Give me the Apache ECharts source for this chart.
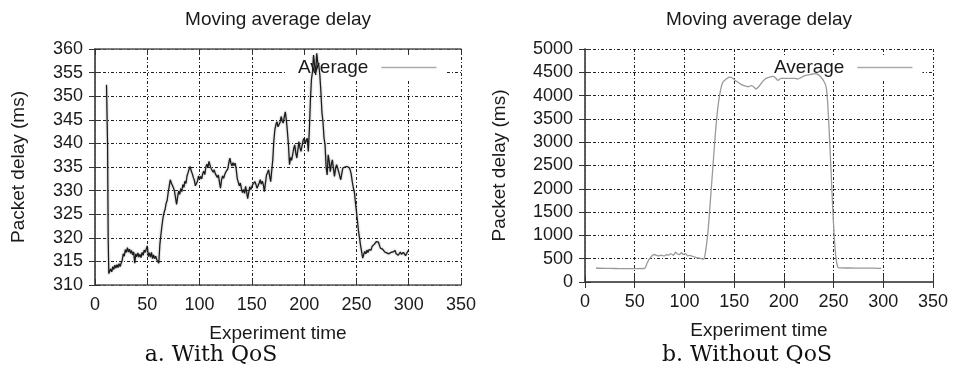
<!DOCTYPE html>
<html>
<head>
<meta charset="utf-8">
<script src="https://cdn.jsdelivr.net/npm/echarts@6/dist/echarts.min.js"></script>
<style>
html,body{margin:0;padding:0;background:#fff;}
#chart{width:954px;height:370px;}
</style>
</head>
<body>
<div id="chart"></div>
<script>
// ---- Data ----
var chartTitle = 'Moving average delay';
var xAxisName = 'Experiment time';
var yAxisName = 'Packet delay (ms)';
var seriesName = 'Average';
var captionA = 'a. With QoS';
var captionB = 'b. Without QoS';

var xMin = 0, xMax = 350, xStep = 50;
var qosMin = 310, qosMax = 360, qosStep = 5;
var noQosMin = 0, noQosMax = 5000, noQosStep = 500;

// [time, delay] for "With QoS"
var qosData = [
[11,352.4],[12,340],[12.6,320],[13.2,312.4],[14,312.9],[15,313.4],[16,312.8],[17,313.9],[18,313.3],[19,314.2],
[20,313.6],[21,314.3],[22,313.7],[23,314.5],[24,313.9],[25,314.6],[26,315.2],[27,316.6],[28,316.1],[29,317.5],
[30,316.9],[31,317.9],[32,317.0],[33,317.6],[34,316.7],[35,317.3],[36,316.4],[37,317.0],[38,314.6],[39,316.6],
[40,316.0],[41,316.8],[42,315.9],[43,316.5],[44,315.8],[45,316.9],[46,316.3],[47,317.4],[48,316.9],[49,317.6],
[50,318.3],[51,316.0],[52,316.8],[53,315.9],[54,316.9],[55,315.6],[56,316.4],[57,315.6],[58,316.1],[59,315.4],
[60,315.8],[61,314.6],[62,318.5],[63,320.6],[64,322.5],[65,324.2],[66,325.3],[67,326.0],[68,327.3],[69,327.9],
[70,329.6],[71,331.0],[72,332.3],[73,331.6],[74,331.9],[75,330.6],[76,329.9],[77,328.5],[78,327.1],[79,328.6],
[80,329.9],[81,329.2],[82,330.4],[83,329.8],[84,331.3],[85,330.7],[86,332.0],[87,331.5],[88,333.1],[89,333.8],
[90,334.6],[91,335.1],[92,334.2],[93,333.6],[94,332.8],[95,332.2],[96,331.0],[97,330.8],[98,332.0],[99,333.1],
[100,332.4],[101,333.0],[102,332.5],[103,333.6],[104,334.1],[105,333.4],[106,335.0],[107,335.6],[108,334.9],[109,336.2],
[110,335.4],[111,334.7],[112,335.1],[113,333.9],[114,334.4],[115,333.6],[116,333.9],[117,332.8],[118,333.3],[119,331.8],
[120,330.5],[121,332.2],[122,333.1],[123,332.6],[124,333.4],[125,333.9],[126,333.5],[127,334.6],[128,335.9],[129,336.9],
[130,335.8],[131,335.2],[132,335.9],[133,335.3],[134,335.8],[135,334.6],[136,332.6],[137,332.2],[138,331.0],[139,331.6],
[140,330.4],[141,329.6],[142,330.2],[143,329.4],[144,330.9],[145,329.7],[146,328.3],[147,329.6],[148,330.8],[149,330.2],
[150,330.6],[151,331.4],[152,331.0],[153,331.9],[154,331.2],[155,330.5],[156,330.9],[157,331.6],[158,332.3],[159,331.4],
[160,332.0],[161,331.2],[162,329.8],[163,331.6],[164,333.3],[165,333.8],[166,334.4],[167,333.1],[168,331.9],[169,334.2],
[170,336.5],[171,340.5],[172,342.9],[173,344.0],[174,344.6],[175,343.5],[176,343.2],[177,344.5],[178,345.7],[179,344.8],
[180,344.3],[181,345.6],[182,346.7],[183,344.9],[184,342.5],[185,339.6],[186,335.5],[187,337.0],[188,336.4],[189,337.6],
[190,338.9],[191,339.7],[192,338.0],[193,336.9],[194,338.6],[195,340.4],[196,339.1],[197,338.3],[198,339.5],[199,340.6],
[200,341.1],[201,340.0],[202,340.6],[203,341.1],[204,338.3],[205,343.0],[206,349.2],[207,353.6],[208,355.2],[209,358.7],
[210,356.5],[211,354.5],[212,359.1],[213,357.2],[214,356.6],[215,354.5],[216,351.0],[217,346.6],[218,344.6],[219,341.2],
[220,339.7],[221,335.0],[222,333.3],[223,337.6],[224,336.2],[225,334.0],[226,335.6],[227,336.5],[228,334.7],[229,333.0],
[230,334.6],[231,335.5],[232,334.8],[233,334.0],[234,333.1],[235,332.3],[236,333.6],[237,334.8],[238,334.4],[239,335.0],
[240,334.6],[241,335.1],[242,334.7],[243,334.9],[244,334.4],[245,333.5],[246,331.9],[247,330.6],[248,329.8],[249,327.6],
[250,325.6],[251,323.5],[252,321.4],[253,319.9],[254,318.3],[255,317.0],[256,315.7],[257,316.5],[258,317.1],[259,316.6],
[260,317.4],[261,316.9],[262,317.5],[263,317.8],[264,317.4],[265,318.2],[266,318.0],[267,318.6],[268,318.9],[269,319.2],
[270,318.9],[271,319.1],[272,318.4],[273,317.8],[274,318.1],[275,317.6],[276,317.5],[277,317.0],[278,317.4],[279,316.8],
[280,317.1],[281,316.6],[282,316.4],[283,316.9],[284,316.7],[285,317.0],[286,316.8],[287,317.3],[288,316.6],[289,316.8],
[290,316.3],[291,316.4],[292,317.0],[293,316.5],[294,316.1],[295,316.9],[296,316.8],[297,316.2],[298,316.4],[299,317.1],
[300,317.4]
];

// [time, delay] for "Without QoS"
var noQosData = [
[11,300],[20,292],[30,290],[40,288],[50,289],[60,290],[62,380],[64,470],[66,530],[68,575],
[70,590],[72,570],[74,560],[76,575],[78,565],[80,560],[82,585],[84,575],[86,605],[88,590],
[89,570],[91,640],[93,600],[95,590],[97,630],[99,590],[101,610],[103,560],[105,570],[107,560],
[110,537],[112,525],[114,515],[116,505],[118,495],[119.5,490],[121,620],[122.5,850],[124,1150],[126,1720],
[128.5,2430],[131,3150],[133.5,3720],[136,4080],[138.5,4280],[142,4355],[145,4398],[148,4384],[150.5,4334],[154,4283],
[157,4241],[160,4212],[164,4190],[167,4212],[169.5,4190],[172,4140],[175.5,4212],[179,4312],[182,4370],[185.5,4398],
[189,4413],[191.5,4384],[194,4327],[197,4370],[201,4370],[206,4370],[211,4370],[214,4355],[217,4384],[221,4427],
[224,4441],[227,4455],[231,4470],[234,4455],[237,4405],[240.5,4298],[242.5,4190],[244,3868],[245.8,3152],[247.5,2364],
[249,1647],[250.8,931],[252.5,501],[254.2,322],[256,301],[265,300],[280,298],[290,296],[298,292]
];

// ---- Styles ----
var FONT = 'Liberation Sans, Arial, sans-serif';
var TXT = '#1a1a1a';
var gridLineStyle = {color: '#222', width: 1, type: [3, 2, 1, 2]};
var frame = {show: true, lineStyle: {color: '#555', width: 1.5}};
var ticksIn = {show: true, inside: true, length: 6, lineStyle: {color: '#333', width: 1}};
function plain(v) { return String(v); }

function bottomX(gi) {
  return {
    type: 'value', gridIndex: gi, position: 'bottom',
    min: xMin, max: xMax, interval: xStep,
    name: xAxisName, nameLocation: 'middle', nameGap: 39,
    nameTextStyle: {fontFamily: FONT, fontSize: 19, color: TXT},
    axisLine: frame, axisTick: ticksIn,
    axisLabel: {fontFamily: FONT, fontSize: 18, color: TXT, margin: 11, formatter: plain},
    splitLine: {show: true, lineStyle: gridLineStyle}
  };
}
function topX(gi) {
  return {
    type: 'value', gridIndex: gi, position: 'top',
    min: xMin, max: xMax, interval: xStep,
    axisLine: frame, axisTick: ticksIn,
    axisLabel: {show: false}, splitLine: {show: false}
  };
}
function leftY(gi, mn, mx, st, gap) {
  return {
    type: 'value', gridIndex: gi, position: 'left',
    min: mn, max: mx, interval: st,
    name: yAxisName, nameLocation: 'middle', nameGap: gap,
    nameTextStyle: {fontFamily: FONT, fontSize: 19, color: TXT},
    axisLine: frame, axisTick: ticksIn,
    axisLabel: {fontFamily: FONT, fontSize: 18, color: TXT, margin: 12, formatter: plain},
    splitLine: {show: true, lineStyle: gridLineStyle}
  };
}
function rightY(gi, mn, mx, st) {
  return {
    type: 'value', gridIndex: gi, position: 'right',
    min: mn, max: mx, interval: st,
    axisLine: frame, axisTick: ticksIn,
    axisLabel: {show: false}, splitLine: {show: false}
  };
}

function legendAt(left) {
  return {
    data: [seriesName], left: left, top: 56, z: 1,
    orient: 'horizontal', align: 'right',
    backgroundColor: '#fff', padding: [2, 10, 2, 11],
    icon: 'rect', itemWidth: 55, itemHeight: 1.5,
    itemStyle: {color: '#aaa', borderWidth: 0},
    textStyle: {fontFamily: FONT, fontSize: 19, color: TXT, padding: [0, 8, 0, 0]},
    selectedMode: false
  };
}

var chart = echarts.init(document.getElementById('chart'), null, {renderer: 'canvas'});
chart.setOption({
  animation: false,
  backgroundColor: '#fff',
  title: [
    {text: chartTitle, left: 278, top: 10, textAlign: 'center', padding: 0,
     textStyle: {fontFamily: FONT, fontSize: 19, fontWeight: 'normal', color: TXT}},
    {text: chartTitle, left: 759, top: 10, textAlign: 'center', padding: 0,
     textStyle: {fontFamily: FONT, fontSize: 19, fontWeight: 'normal', color: TXT}},
    {text: captionA, left: 211, top: 344, textAlign: 'center', padding: 0,
     textStyle: {fontFamily: 'DejaVu Serif, serif', fontSize: 22, fontWeight: 'normal', color: '#111'}},
    {text: captionB, left: 747, top: 344, textAlign: 'center', padding: 0,
     textStyle: {fontFamily: 'DejaVu Serif, serif', fontSize: 22, fontWeight: 'normal', color: '#111'}}
  ],
  legend: [legendAt(287), legendAt(763)],
  grid: [
    {left: 95, top: 49, width: 366, height: 236, containLabel: false},
    {left: 585, top: 49, width: 348, height: 233, containLabel: false}
  ],
  xAxis: [bottomX(0), bottomX(1), topX(0), topX(1)],
  yAxis: [
    leftY(0, qosMin, qosMax, qosStep, 67),
    leftY(1, noQosMin, noQosMax, noQosStep, 76),
    rightY(0, qosMin, qosMax, qosStep),
    rightY(1, noQosMin, noQosMax, noQosStep)
  ],
  series: [
    {name: seriesName, type: 'line', xAxisIndex: 0, yAxisIndex: 0, z: 3,
     data: qosData, showSymbol: false, symbol: 'none',
     lineStyle: {color: '#1a1a1a', width: 1.2, shadowColor: 'rgba(0,0,0,0.45)', shadowBlur: 2},
     itemStyle: {color: '#aaa'}},
    {name: seriesName, type: 'line', xAxisIndex: 1, yAxisIndex: 1, z: 3,
     data: noQosData, showSymbol: false, symbol: 'none', smooth: 0.2,
     lineStyle: {color: '#9a9a9a', width: 1.3},
     itemStyle: {color: '#aaa'}}
  ]
});
</script>
</body>
</html>
